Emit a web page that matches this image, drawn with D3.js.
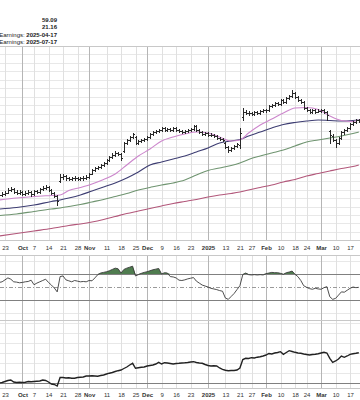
<!DOCTYPE html>
<html><head><meta charset="utf-8">
<script src="https://cdn.jsdelivr.net/npm/d3@7"></script>
<style>
html,body{margin:0;padding:0;background:#fff;}
svg{display:block;font-family:"Liberation Sans",Arial,sans-serif;}
</style></head><body>
<svg id="chart" width="360" height="400"></svg>
<script>
// ---------- DATA ----------
const startDate = "2024-09-19";
const endDate = "2025-03-20";
const holidays = ["2024-11-28","2024-12-25","2025-01-01","2025-01-09","2025-01-20","2025-02-17"];

const headerValues = ["59.09", "21.16"];
const earningsDates = ["2025-04-17", "2025-07-17"];

const tickDates = ["2024-09-23","2024-10-01","2024-10-07","2024-10-14","2024-10-21","2024-10-28","2024-11-01","2024-11-11","2024-11-18","2024-11-25","2024-12-02","2024-12-09","2024-12-16","2024-12-23","2025-01-02","2025-01-13","2025-01-21","2025-01-27","2025-02-03","2025-02-10","2025-02-18","2025-02-24","2025-03-03","2025-03-10","2025-03-17"];
const tickLabels = ["23","Oct","7","14","21","28","Nov","11","18","25","Dec","9","16","23","2025","13","21","27","Feb","10","18","24","Mar","10","17"];

// daily OHLC bars [open, high, low, close]
const ohlc = [
[50.30,50.55,50.15,50.37],[50.40,50.70,50.30,50.49],[50.50,50.80,50.35,50.60],[50.65,51.15,50.55,50.96],
[50.95,51.30,50.85,51.08],[51.05,51.15,50.60,50.75],[50.70,50.90,50.45,50.60],[50.60,50.95,50.50,50.75],
[50.75,50.85,50.35,50.49],[50.50,50.80,50.40,50.60],[50.60,50.95,50.50,50.75],[50.75,50.85,50.30,50.49],
[50.50,51.00,50.40,50.85],[50.85,51.00,50.60,50.75],[50.75,51.25,50.65,51.10],[51.10,51.40,50.95,51.20],
[51.20,51.50,51.05,51.31],[51.30,51.40,50.85,50.96],[50.95,51.05,50.45,50.60],[50.60,50.70,50.10,50.25],
[50.20,50.35,49.18,49.66],[52.00,52.85,51.90,52.50],[52.50,52.80,52.30,52.62],[52.60,52.70,52.20,52.38],
[52.40,52.55,52.10,52.27],[52.25,52.55,52.15,52.38],[52.40,52.60,52.20,52.38],[52.35,52.50,52.10,52.27],
[52.25,52.55,52.15,52.38],[52.40,52.60,52.20,52.38],[52.40,52.70,52.30,52.50],[52.50,53.00,52.40,52.85],
[52.90,53.45,52.80,53.33],[53.30,53.70,53.20,53.56],[53.55,53.85,53.40,53.68],[53.70,54.05,53.55,53.92],
[53.90,54.30,53.80,54.15],[54.15,54.65,54.05,54.51],[54.50,55.00,54.40,54.86],[54.85,55.30,54.75,55.10],
[55.10,55.55,55.00,55.34],[55.35,55.50,55.05,55.22],[55.20,55.30,54.51,54.75],[55.60,56.60,55.50,56.52],
[56.50,57.00,56.40,56.88],[56.90,57.35,56.80,57.23],[57.25,57.75,57.10,57.59],[57.20,57.30,56.40,56.52],
[56.55,56.90,56.40,56.76],[56.75,57.00,56.60,56.88],[56.90,57.10,56.75,56.99],[57.00,57.35,56.85,57.23],
[57.25,57.70,57.15,57.59],[57.60,57.95,57.45,57.82],[57.80,58.10,57.70,57.94],[57.95,58.20,57.80,58.06],
[58.05,58.45,57.95,58.30],[58.30,58.40,57.95,58.06],[58.05,58.30,57.90,58.18],[58.20,58.30,57.90,58.06],
[58.05,58.45,57.95,58.30],[58.30,58.40,57.95,58.06],[58.05,58.20,57.80,57.94],[57.95,58.05,57.70,57.82],
[57.80,58.10,57.70,57.94],[57.95,58.20,57.85,58.06],[58.05,58.30,57.95,58.18],[58.20,58.70,58.10,58.53],
[58.50,58.60,57.95,58.06],[58.05,58.15,57.70,57.82],[57.80,57.90,57.45,57.59],[57.60,57.85,57.50,57.70],
[57.70,57.80,57.35,57.47],[57.45,57.65,57.30,57.47],[57.45,57.55,57.20,57.35],[57.35,57.45,57.00,57.11],
[57.10,57.25,56.85,56.99],[57.00,57.10,56.70,56.88],[56.50,56.60,55.90,56.05],[56.05,56.20,55.45,55.69],
[55.70,56.05,55.60,55.93],[55.95,56.30,55.85,56.17],[56.15,56.55,56.05,56.40],[56.30,58.30,55.95,57.70],
[59.60,60.66,59.30,60.19],[60.15,60.40,59.90,60.07],[60.05,60.30,59.85,60.07],[60.05,60.20,59.80,59.95],
[59.95,60.30,59.85,60.19],[60.20,60.30,59.95,60.07],[60.05,60.45,59.95,60.31],[60.30,60.55,60.20,60.43],
[60.45,60.60,60.20,60.43],[60.45,61.00,60.35,60.90],[60.90,61.15,60.80,61.02],[61.00,61.40,60.90,61.25],
[61.25,61.35,61.00,61.14],[61.15,61.75,61.05,61.61],[61.60,61.70,61.25,61.37],[61.40,61.95,61.30,61.85],
[61.85,62.20,61.75,62.08],[62.10,62.80,62.00,62.44],[62.40,62.55,61.85,61.96],[61.95,62.05,61.50,61.61],
[61.60,61.70,61.25,61.37],[61.35,61.45,60.55,60.66],[60.65,60.80,60.30,60.43],[60.40,60.55,60.05,60.19],
[60.20,60.55,60.10,60.43],[60.45,60.55,60.05,60.19],[60.20,60.50,60.15,60.31],[60.30,60.60,60.20,60.43],
[60.45,60.55,60.05,60.19],[60.20,60.30,59.24,59.83],[58.00,58.10,56.50,57.47],[57.40,57.60,56.70,56.88],
[56.85,57.00,56.05,56.52],[56.55,57.25,56.45,57.11],[57.10,57.90,57.00,57.82],[57.80,58.20,57.60,58.06],
[58.05,58.45,57.90,58.30],[58.30,58.90,58.20,58.77],[58.80,59.15,58.65,59.01],[59.00,59.40,58.90,59.24],
[59.25,59.35,58.95,59.09]
];

// moving averages, sampled on these dates
const maDates = ["2024-09-19","2024-09-27","2024-10-07","2024-10-15","2024-10-18","2024-10-23","2024-10-29","2024-11-04","2024-11-08","2024-11-14","2024-11-20","2024-11-26","2024-12-03","2024-12-09","2024-12-13","2024-12-19","2024-12-26","2025-01-02","2025-01-08","2025-01-15","2025-01-21","2025-01-24","2025-01-30","2025-02-05","2025-02-11","2025-02-18","2025-02-24","2025-02-28","2025-03-06","2025-03-12","2025-03-18","2025-03-20"];
const maShort = [49.78,50.01,50.19,50.31,50.37,50.90,51.26,51.67,52.20,52.85,53.92,54.98,55.81,56.76,57.23,57.59,57.82,57.70,57.23,56.76,56.88,57.70,58.65,59.36,60.07,60.66,60.72,60.49,59.72,59.18,59.07,59.24];
const maMid   = [48.71,48.89,49.18,49.60,49.78,50.01,50.37,50.84,51.31,51.79,52.38,53.09,53.92,54.27,54.63,54.98,55.46,55.93,56.52,56.76,56.94,57.35,57.82,58.30,58.71,58.95,59.12,59.24,59.18,59.12,59.18,59.24];
const maLong  = [47.94,48.12,48.42,48.71,48.83,49.01,49.24,49.54,49.84,50.19,50.55,50.96,51.26,51.55,51.79,52.14,52.73,53.27,53.56,53.86,54.16,54.57,54.98,55.34,55.69,56.17,56.64,56.88,57.11,57.35,57.65,57.82];
const ma200   = [45.52,45.81,46.11,46.40,46.58,46.76,46.94,47.17,47.47,47.82,48.18,48.47,48.77,49.07,49.36,49.60,49.84,50.13,50.37,50.55,50.72,50.96,51.26,51.55,51.91,52.20,52.62,52.91,53.21,53.50,53.74,53.92];

// RSI (daily)
const rsi = [57,58,61,64,62,58,57.5,56.5,57,58,58.5,60.5,53.5,56,58,60,62,57,53,48.5,42.5,
66,67,61,59.5,58,60,59,58,58.5,58,60,59.5,64,69,71.5,72.5,73.5,75,77,79,78,71.5,77,79,80.5,82,
67,69,71,72.5,73.5,75,76.5,77.5,78.5,70,72,71.5,66,65.5,64,60.5,60,61,62.5,63.5,64.5,
59,56,53,51.5,50,48,47,46,44.5,43.5,33,31,35.5,40,46,52,
69,71.5,69,68.5,69,68.5,69,68.5,70.5,71.5,72.5,72,72,71,69.5,72,73,74.5,69.5,66,60,52,49.5,47.5,46.5,48,47,46.5,49,50.5,
35,31,32.5,37.5,42.5,42,45,48,50,49,49.5];

// lower panel line (daily)
const lower = [0,0.5,1.5,2.5,3,1,0.5,0.8,0.5,0.8,1.5,1.2,1.5,1.8,2,3,2.5,1,-1,-1.5,-3,
5.5,5.5,5,5.2,4.8,4.8,5.5,5.8,6,7,7,7.2,7,6.8,7.5,8,9,9.8,10.5,11.5,12.3,13,14.5,16,18,19.7,
14.7,15.2,15.7,16,17,17.5,18,19,20.7,19,20.3,20,19.5,19,19.5,19.7,20,20.2,20.5,21,21.3,
20.5,20,19.7,18.5,17.5,17,17.2,17,15,13.7,12.8,12.3,12.5,12.5,13,15,
23.5,24.7,24.5,25.3,25,25.8,26.3,27,28,29.5,29,30,30.5,31.3,28.7,30.5,32.3,31.5,30.7,30,29.7,29,28.5,28,28.5,28.7,29.3,30,30.7,30,
24.7,20.7,22,24,27,25.7,27,28.7,29.2,29.7,30.3];

// ---------- BUILD ----------
const tradingDays = [];
for (let d = new Date(startDate + "T12:00:00Z"); d <= new Date(endDate + "T12:00:00Z"); d.setUTCDate(d.getUTCDate() + 1)) {
  const s = d.toISOString().slice(0, 10);
  const wd = d.getUTCDay();
  if (wd === 0 || wd === 6 || holidays.includes(s)) continue;
  tradingDays.push(s);
}

const svg = d3.select("#chart");
svg.append("rect").attr("width", 360).attr("height", 400).attr("fill", "#fff");

const P = {top: 46, bottom: 240.35};
const R = {top: 254.5, bottom: 319.5};
const B = {top: 320, bottom: 388};

const x = d3.scalePoint().domain(tradingDays).range([-0.8, 358.8]);
const yP = d3.scaleLinear().domain([45, 68]).range([P.bottom, P.top]);
const yR = d3.scaleLinear().domain([0, 100]).range([R.bottom, R.top]);
const yB = d3.scaleLinear().domain([-5, 63]).range([B.bottom, B.top]);

const monthSet = new Set(["Oct","Nov","Dec","2025","Feb","Mar"]);
const grid = svg.append("g").attr("shape-rendering", "crispEdges");

// horizontal grids
function hGrid(vals, scale, color) {
  grid.append("g").selectAll("line").data(vals).join("line")
    .attr("x1", 0).attr("x2", 360)
    .attr("y1", d => Math.round(scale(d)) + 0.5).attr("y2", d => Math.round(scale(d)) + 0.5)
    .attr("stroke", color).attr("stroke-width", 1);
}
hGrid(d3.range(45, 69), yP, "#e8e8e8");
hGrid([10, 90], yR, "#e8e8e8");
hGrid([10, 20, 30, 40, 50, 60], yB, "#e8e8e8");

// vertical grids
[P, R, B].forEach(pan => {
  grid.append("g").selectAll("line").data(tickDates).join("line")
    .attr("x1", d => Math.round(x(d)) + 0.5).attr("x2", d => Math.round(x(d)) + 0.5)
    .attr("y1", pan.top).attr("y2", pan.bottom)
    .attr("stroke", (d, i) => monthSet.has(tickLabels[i]) ? "#b5b5b5" : "#e0e0e0");
});

// panel borders
hGrid([68, 45], yP, "#c8c8c8");
hGrid([100, 0], yR, "#c8c8c8");
hGrid([63], yB, "#c8c8c8");
grid.append("line").attr("x1", 0).attr("x2", 360).attr("y1", B.bottom + 0.5).attr("y2", B.bottom + 0.5).attr("stroke", "#c8c8c8");

// header text
const hdr = svg.append("g").attr("font-size", 6).attr("text-anchor", "end").attr("fill", "#222");
headerValues.forEach((v, i) => {
  hdr.append("text").attr("x", 57).attr("y", 21.8 + i * 7.5).attr("font-weight", "bold").text(v);
});
earningsDates.forEach((v, i) => {
  const t = hdr.append("text").attr("x", 57).attr("y", 36.8 + i * 7.5);
  t.append("tspan").text("Earnings: ");
  t.append("tspan").attr("font-weight", "bold").text(v);
});

// moving averages
const maLine = d3.line().x((d, i) => x(maDates[i])).y(d => yP(d)).curve(d3.curveMonotoneX);
const maG = svg.append("g").attr("fill", "none");
[[ma200, "#b2577a"], [maLong, "#6f9470"], [maMid, "#3d3d72"], [maShort, "#cc86cc"]].forEach(([arr, col]) => {
  maG.append("path").attr("d", maLine(arr)).attr("stroke", col).attr("stroke-width", 1.1);
});

// OHLC bars
svg.append("g").attr("stroke", "#2a2a2a").attr("stroke-width", 1).attr("fill", "none")
  .attr("shape-rendering", "crispEdges")
  .selectAll("path").data(ohlc).join("path")
  .attr("d", (b, i) => {
    const cx = Math.round(x(tradingDays[i])) + 0.5;
    const yo = Math.round(yP(b[0])) + 0.5, yc = Math.round(yP(b[3])) + 0.5;
    return `M${cx},${Math.round(yP(b[1]))}V${Math.round(yP(b[2])) + 1}M${cx - 1.5},${yo}H${cx}M${cx},${yc}H${cx + 1.5}`;
  });

// axes labels
function axisAt(yPos) {
  const g = svg.append("g").attr("transform", `translate(0,${yPos})`)
    .call(d3.axisBottom(x).tickValues(tickDates).tickFormat((d, i) => tickLabels[i]).tickSize(0).tickPadding(0));
  g.select(".domain").remove();
  g.selectAll("text").attr("font-size", 6).attr("fill", "#333")
    .attr("font-family", '"Liberation Sans",Arial,sans-serif')
    .attr("font-weight", (d, i) => monthSet.has(tickLabels[i]) ? "bold" : "normal");
}
axisAt(245.5);
axisAt(392.5);

// RSI panel
const rsiG = svg.append("g");
const area = d3.area().x((d, i) => x(tradingDays[i])).y0(yR(70)).y1(d => yR(Math.max(d, 70)));
rsiG.append("path").attr("d", area(rsi)).attr("fill", "#4f7c4f").attr("stroke", "none");
[[70, "#808080", null], [30, "#808080", null], [50, "#9a9a9a", "4,2,1,2"]].forEach(([v, c, da]) => {
  rsiG.append("line").attr("x1", 0).attr("x2", 360)
    .attr("y1", Math.round(yR(v)) + 0.5).attr("y2", Math.round(yR(v)) + 0.5)
    .attr("stroke", c).attr("stroke-dasharray", da).attr("shape-rendering", "crispEdges");
});
rsiG.append("path").attr("d", d3.line().x((d, i) => x(tradingDays[i])).y(d => yR(d))(rsi))
  .attr("fill", "none").attr("stroke", "#3a3a3a").attr("stroke-width", 0.9);

// lower panel
const lowG = svg.append("g");
lowG.append("line").attr("x1", 0).attr("x2", 360)
  .attr("y1", Math.round(yB(0)) + 0.5).attr("y2", Math.round(yB(0)) + 0.5)
  .attr("stroke", "#808080").attr("shape-rendering", "crispEdges");
lowG.append("path").attr("d", d3.line().x((d, i) => x(tradingDays[i])).y(d => yB(d))(lower))
  .attr("fill", "none").attr("stroke", "#222").attr("stroke-width", 1.4);
</script>
</body></html>
